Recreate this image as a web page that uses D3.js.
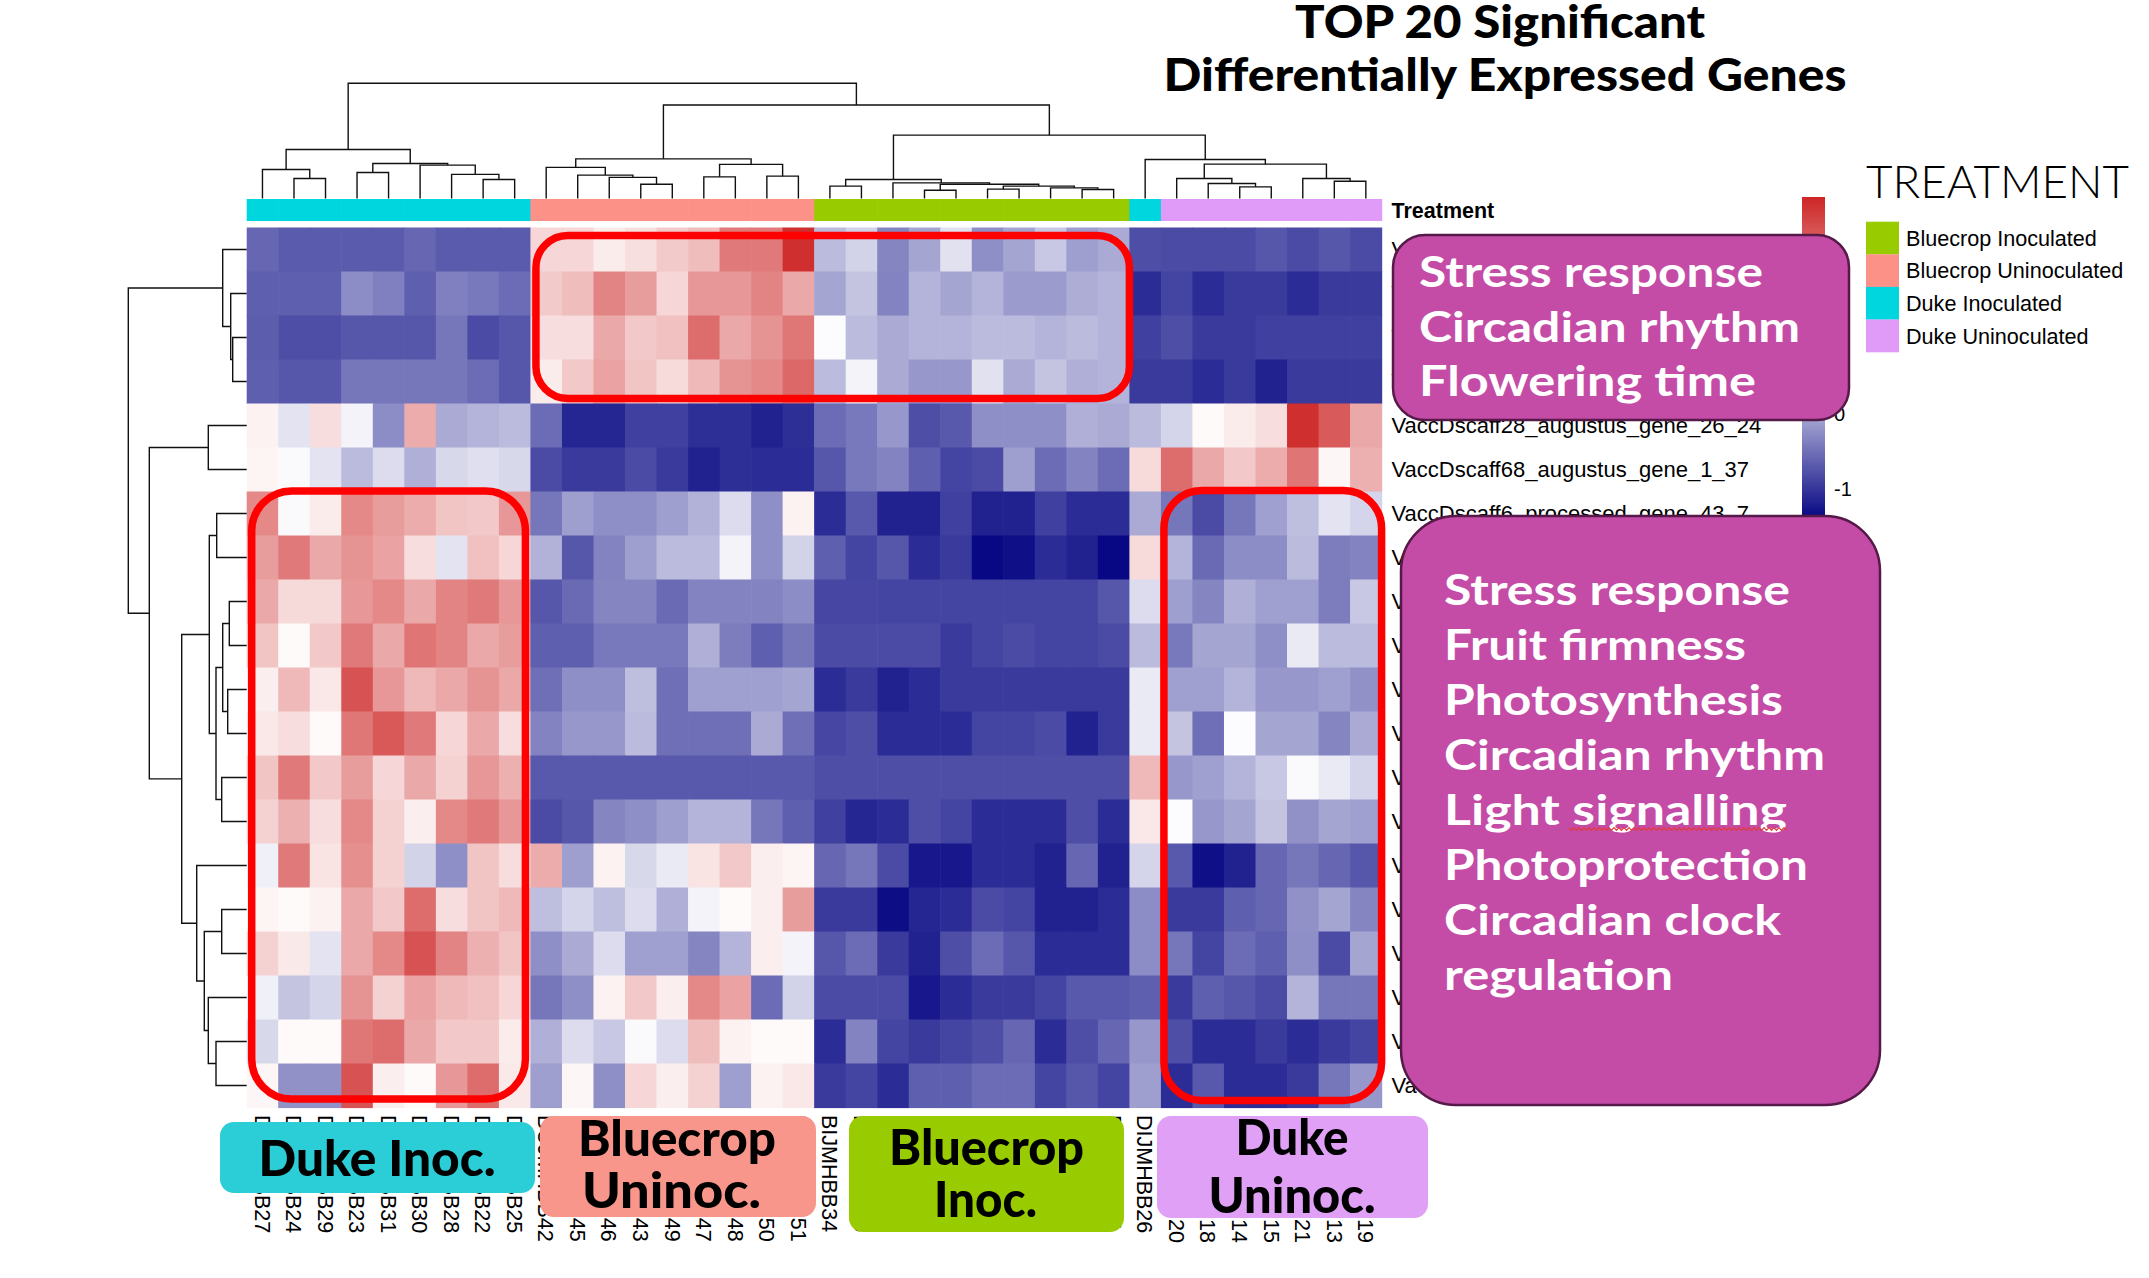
<!DOCTYPE html>
<html><head><meta charset="utf-8">
<script src="https://cdn.jsdelivr.net/npm/d3@7"></script>
<style>body{margin:0;background:#fff}svg{display:block}</style>
</head><body>
<svg id="chart" width="2149" height="1278"></svg>
<script>
// ---------------- DATA ----------------
const colLabels = ["DIJMHBB27","DIJMHBB24","DIJMHBB29","DIJMHBB23","DIJMHBB31","DIJMHBB30","DIJMHBB28","DIJMHBB22","DIJMHBB25",
  "BUJMHBB42","BUJMHBB45","BUJMHBB46","BUJMHBB43","BUJMHBB49","BUJMHBB47","BUJMHBB48","BUJMHBB50","BUJMHBB51",
  "BIJMHBB34","BIJMHBB36","BIJMHBB32","BIJMHBB38","BIJMHBB33","BIJMHBB40","BIJMHBB35","BIJMHBB39","BIJMHBB37","BIJMHBB41",
  "DIJMHBB26","DUJMHBB20","DUJMHBB18","DUJMHBB14","DUJMHBB15","DUJMHBB21","DUJMHBB13","DUJMHBB19"];
const colGroup = [2,2,2,2,2,2,2,2,2, 1,1,1,1,1,1,1,1,1, 0,0,0,0,0,0,0,0,0,0, 2, 3,3,3,3,3,3,3];
const groupNames = ["Bluecrop Inoculated","Bluecrop Uninoculated","Duke Inoculated","Duke Uninoculated"];
const groupColors = ["#99cc00","#fc9287","#00d6de","#e09af7"];
const rowLabels = ["VaccDscaff1_processed_gene_110_5","VaccDscaff12_augustus_gene_48_21","VaccDscaff7_augustus_gene_151_29","VaccDscaff3_snap_gene_52_38",
  "VaccDscaff28_augustus_gene_26_24","VaccDscaff68_augustus_gene_1_37","VaccDscaff6_processed_gene_43_7",
  "VaccDscaff2_augustus_gene_201_12","VaccDscaff9_processed_gene_66_4","VaccDscaff4_augustus_gene_310_17","VaccDscaff21_augustus_gene_14_30",
  "VaccDscaff13_snap_gene_88_2","VaccDscaff5_augustus_gene_97_41","VaccDscaff17_processed_gene_25_9","VaccDscaff10_augustus_gene_173_6",
  "VaccDscaff8_augustus_gene_59_33","VaccDscaff33_snap_gene_11_14","VaccDscaff14_augustus_gene_132_8","VaccDscaff1_augustus_gene_402_19","VaccDscaff20_processed_gene_77_3"];
const expression = [
 [-0.58,-0.68,-0.68,-0.68,-0.68,-0.58,-0.68,-0.68,-0.68,1.12,1.12,0.90,1.03,1.24,1.37,2.05,2.05,2.79,0.14,0.33,-0.32,-0.05,0.46,-0.24,-0.05,0.25,-0.11,-0.01,-0.79,-0.81,-0.81,-0.81,-0.72,-0.81,-0.72,-0.81],
 [-0.64,-0.64,-0.64,-0.26,-0.36,-0.64,-0.36,-0.43,-0.53,1.24,1.37,1.94,1.69,1.12,1.75,1.75,1.94,1.58,-0.05,0.21,-0.34,0.08,-0.05,0.08,-0.13,-0.13,0.02,0.08,-1.08,-0.87,-1.08,-0.96,-0.96,-1.08,-0.96,-0.96],
 [-0.66,-0.79,-0.79,-0.72,-0.72,-0.72,-0.45,-0.81,-0.72,1.05,1.05,1.58,1.26,1.33,2.17,1.58,1.79,2.07,0.69,0.14,-0.01,0.08,0.08,0.14,0.14,0.08,0.14,0.08,-0.91,-0.79,-0.96,-0.96,-0.91,-0.91,-0.91,-0.91],
 [-0.64,-0.72,-0.72,-0.45,-0.45,-0.45,-0.45,-0.53,-0.72,0.90,1.26,1.64,1.29,1.07,1.41,1.79,1.90,2.22,0.14,0.61,-0.01,-0.17,-0.17,0.46,-0.01,0.21,0.04,0.08,-0.96,-0.96,-1.08,-0.96,-1.17,-0.96,-0.96,-0.96],
 [0.84,0.48,1.05,0.61,-0.26,1.54,-0.01,0.08,0.14,-0.53,-1.13,-1.13,-0.91,-0.91,-1.06,-1.06,-1.17,-1.06,-0.53,-0.43,-0.17,-0.79,-0.70,-0.24,-0.24,-0.24,0.04,-0.01,0.14,0.35,0.76,0.90,1.05,2.79,2.36,1.58],
 [0.82,0.67,0.48,0.14,0.42,0.04,0.38,0.44,0.38,-0.81,-0.96,-0.96,-0.81,-0.96,-1.17,-1.06,-1.08,-1.08,-0.72,-0.43,-0.34,-0.64,-0.87,-0.81,-0.11,-0.53,-0.34,-0.53,1.07,2.17,1.58,1.26,1.54,2.09,0.80,1.50],
 [1.90,0.67,0.90,1.90,1.69,1.54,1.29,1.26,1.75,-0.45,-0.11,-0.24,-0.24,-0.11,0.06,0.42,-0.24,0.84,-1.08,-0.70,-1.17,-1.17,-0.91,-1.17,-1.17,-0.91,-1.08,-1.08,-0.01,-0.45,-0.81,-0.45,-0.09,0.16,0.48,0.35],
 [1.69,2.05,1.58,1.79,1.64,1.05,0.48,1.33,1.12,0.06,-0.72,-0.34,-0.11,0.14,0.14,0.61,-0.24,0.33,-0.64,-0.87,-0.72,-1.08,-0.96,-1.38,-1.32,-1.08,-1.17,-1.38,1.07,0.08,-0.56,-0.26,-0.26,0.14,-0.39,-0.34],
 [1.58,1.09,1.09,1.75,1.90,1.58,1.94,2.05,1.75,-0.72,-0.56,-0.32,-0.32,-0.56,-0.34,-0.34,-0.34,-0.26,-0.85,-0.85,-0.87,-0.87,-0.87,-0.87,-0.87,-0.87,-0.87,-0.72,0.42,-0.11,-0.32,0.04,-0.09,-0.09,-0.39,0.25],
 [1.29,0.76,1.26,2.05,1.58,2.09,1.94,1.58,1.69,-0.64,-0.64,-0.43,-0.43,-0.43,0.04,-0.39,-0.64,-0.45,-0.81,-0.81,-0.81,-0.81,-0.96,-0.87,-0.81,-0.87,-0.87,-0.81,0.14,-0.43,-0.05,-0.05,-0.24,0.54,0.14,0.14],
 [0.88,1.41,0.95,2.43,1.75,1.41,1.58,1.79,1.58,-0.51,-0.24,-0.24,0.16,-0.51,-0.09,-0.09,-0.09,-0.05,-1.08,-0.96,-1.17,-1.08,-0.96,-0.96,-0.96,-0.96,-0.96,-0.96,0.54,-0.09,-0.09,0.08,-0.17,-0.17,-0.09,-0.22],
 [0.95,1.05,0.76,2.07,2.38,2.05,1.12,1.58,1.05,-0.34,-0.17,-0.17,0.14,-0.51,-0.51,-0.51,-0.01,-0.51,-0.85,-0.79,-1.08,-1.08,-1.08,-0.87,-0.87,-0.81,-1.17,-0.96,0.54,0.21,-0.51,0.69,-0.05,-0.05,-0.32,-0.01],
 [1.29,2.05,1.26,1.69,1.12,1.58,1.16,1.75,1.50,-0.70,-0.70,-0.70,-0.70,-0.70,-0.70,-0.70,-0.70,-0.70,-0.79,-0.79,-0.79,-0.79,-0.79,-0.79,-0.79,-0.79,-0.79,-0.79,1.41,-0.17,-0.09,0.08,0.25,0.67,0.54,0.35],
 [1.16,1.50,1.05,1.90,1.16,0.88,1.90,2.05,1.75,-0.81,-0.72,-0.32,-0.24,-0.11,0.08,0.08,-0.45,-0.64,-0.91,-1.13,-1.08,-0.79,-0.87,-1.08,-1.08,-1.08,-0.79,-1.08,0.95,0.69,-0.17,-0.05,0.21,-0.22,-0.05,-0.09],
 [0.59,2.05,0.99,1.83,1.16,0.33,-0.24,1.29,1.05,1.54,-0.11,0.84,0.38,0.54,0.99,1.26,0.88,0.82,-0.58,-0.45,-0.81,-1.25,-1.25,-1.08,-1.08,-1.17,-0.58,-1.17,0.35,-0.70,-1.32,-1.17,-0.58,-0.45,-0.58,-0.72],
 [0.82,0.76,0.84,1.58,1.26,2.17,1.05,1.29,1.41,0.16,0.35,0.16,0.42,0.04,0.61,0.76,0.88,1.69,-0.96,-0.96,-1.34,-1.13,-1.08,-0.81,-0.87,-1.17,-1.17,-1.08,-0.26,-0.96,-0.96,-0.64,-0.58,-0.22,-0.05,-0.32],
 [1.16,0.93,0.48,1.58,1.90,2.43,1.94,1.50,1.29,-0.24,-0.01,0.42,-0.09,-0.09,-0.32,0.08,0.88,0.61,-0.72,-0.53,-0.96,-1.17,-0.79,-0.53,-0.72,-1.08,-1.08,-1.08,-0.26,-0.45,-0.87,-0.53,-0.64,-0.24,-0.81,-0.05],
 [0.59,0.21,0.35,1.79,1.16,1.64,1.41,1.33,1.12,-0.45,-0.24,0.84,1.26,0.88,1.90,1.64,-0.53,0.33,-0.81,-0.81,-0.81,-1.25,-1.08,-0.96,-0.96,-0.87,-0.70,-0.70,-0.64,-0.96,-0.64,-0.72,-0.81,0.08,-0.45,-0.45],
 [0.38,0.76,0.76,2.07,2.17,1.58,1.26,1.26,0.90,0.04,0.42,0.25,0.67,0.42,1.37,0.84,0.76,0.76,-1.08,-0.34,-0.87,-0.96,-0.87,-0.79,-0.58,-1.08,-0.79,-0.58,-0.17,-0.79,-1.08,-1.08,-0.96,-1.08,-0.96,-0.87],
 [0.80,-0.22,-0.22,2.43,0.88,0.76,1.75,2.17,0.93,-0.11,0.80,-0.24,1.12,0.88,1.16,-0.11,0.84,0.95,-0.96,-0.87,-1.08,-0.64,-0.64,-0.53,-0.53,-0.87,-0.72,-0.87,-0.11,-1.08,-0.70,-1.08,-1.08,-0.96,-0.45,-0.17]
];
// hclust-style merges: negative = leaf (1-based display position), positive = earlier merge; [a, b, height]
const colMerge = [[-2,-3,17.4],[-1,1,25.2],[-8,-9,16.5],[-7,3,20.9],[-6,4,29.0],[-4,-5,22.6],[6,5,30.4],[2,7,42.6],
  [-13,-14,12.4],[-12,9,18.3],[-11,10,20.3],[-10,11,27.0],[-15,-16,18.8],[-17,-18,19.4],[13,14,29.6],[12,15,34.4],
  [-19,-20,10.7],[-22,-23,7.2],[-24,-25,8.1],[-27,-28,7.8],[-26,20,9.2],[19,21,10.7],[18,22,12.4],[-21,23,13.6],[17,24,16.5],
  [-32,-33,10.1],[-31,26,13.0],[-30,27,17.4],[-35,-36,15.0],[-34,29,17.4],[28,30,29.8],[-29,31,33.9],
  [25,32,55.0],[16,33,81.1],[8,34,100]];
const rowMerge = [[-3,-4,14],[-2,1,16],[-1,2,24],[-5,-6,38.4],[-7,-8,30],[-9,-10,17.4],[-11,-12,19],[6,7,24],[-13,-14,25],
  [8,9,30.7],[5,10,37.4],[-16,-17,25],[-19,-20,30.7],[-18,13,38.4],[12,14,42.4],[-15,15,50],[11,16,65],[4,17,97.4],[3,18,118.4]];
const legendTicks = [-1,0,1,2];
const colorStops = [-1.45,0.715,2.88];
const titleLines = ["TOP 20 Significant","Differentially Expressed Genes"];
const box1Lines = ["Stress response","Circadian rhythm","Flowering time"];
const box2Lines = ["Stress response","Fruit firmness","Photosynthesis","Circadian rhythm","Light signalling","Photoprotection","Circadian clock","regulation"];
const groupTags = [["Duke Inoc."],["Bluecrop","Uninoc."],["Bluecrop","Inoc."],["Duke","Uninoc."]];
// ---------------- DRAW ----------------
const svg = d3.select("#chart");
svg.append("rect").attr("width",2149).attr("height",1278).attr("fill","#fff");
const x = d3.scaleBand().domain(d3.range(colLabels.length)).range([246.7,1381.6]);
const y = d3.scaleBand().domain(d3.range(rowLabels.length)).range([227.5,1107.5]);
const color = d3.scaleLinear().domain(colorStops).range(["#000080","#ffffff","#cd2626"]);
const SANS = "'Liberation Sans', Arial, sans-serif";

// heatmap cells
const cells = svg.append("g");
expression.forEach((row,r)=>row.forEach((v,c)=>{
  cells.append("rect").attr("x",x(c)).attr("y",y(r)).attr("width",x.bandwidth()+0.6).attr("height",y.bandwidth()+0.6).attr("fill",color(v));
}));
// annotation bar
svg.append("g").selectAll("rect").data(colGroup).join("rect")
  .attr("x",(d,i)=>x(i)).attr("y",199).attr("width",x.bandwidth()+0.6).attr("height",22).attr("fill",d=>groupColors[d]);
svg.append("text").attr("x",1391.5).attr("y",218).attr("font-family",SANS).attr("font-weight","bold").attr("font-size",21.5).text("Treatment");

// dendrograms
function drawTree(merges, leafPos, hScale, vertical){
  const pos=[], ht=[];
  const P = id => id<0 ? leafPos(-id-1) : pos[id-1];
  const Hh = id => id<0 ? 0 : ht[id-1];
  const g = svg.append("g").attr("fill","none").attr("stroke","#111").attr("stroke-width",1.4);
  merges.forEach(([a,b,h],k)=>{
    const pa=P(a), pb=P(b);
    pos[k]=(pa+pb)/2; ht[k]=h;
    const pts=[[pa,Hh(a)],[pa,h],[pb,h],[pb,Hh(b)]].map(([p,hh])=> vertical ? [p,hScale(hh)] : [hScale(hh),p]);
    g.append("path").attr("d",d3.line()(pts));
  });
}
drawTree(colMerge, i=>x(i)+x.bandwidth()/2, d3.scaleLinear().domain([0,100]).range([198.5,83.3]), true);
drawTree(rowMerge, i=>y(i)+y.bandwidth()/2, d3.scaleLinear().domain([0,118.4]).range([246.7,128.3]), false);

// row labels
svg.append("g").selectAll("text").data(rowLabels).join("text")
  .attr("x",1391.5).attr("y",(d,i)=>y(i)+y.bandwidth()/2).attr("dy","0.36em")
  .attr("font-family",SANS).attr("font-size",22).text(d=>d);
// column labels
svg.append("g").selectAll("text").data(colLabels).join("text")
  .attr("transform",(d,i)=>`translate(${x(i)+x.bandwidth()/2},1115) rotate(90)`)
  .attr("dy","0.36em").attr("font-family",SANS).attr("font-size",21.5).text(d=>d);

// colour bar legend
const barScale = d3.scaleLinear().domain([colorStops[2],colorStops[0]]).range([197,523]);
const bar = svg.append("g");
d3.range(197,523,2).forEach(py=>{
  bar.append("rect").attr("x",1802).attr("y",py).attr("width",23).attr("height",2.4).attr("fill",color(barScale.invert(py+1)));
});
bar.selectAll("text").data(legendTicks).join("text").attr("x",1834).attr("y",d=>barScale(d)).attr("dy","0.36em")
  .attr("font-family",SANS).attr("font-size",20).text(d=>d);

// treatment legend
svg.append("text").attr("x",1866).attr("y",198).attr("font-family","Lato, 'Open Sans', sans-serif").attr("font-weight",300)
  .attr("font-size",46).attr("textLength",263).attr("lengthAdjust","spacingAndGlyphs").text("TREATMENT");
const lg = svg.append("g");
groupNames.forEach((n,i)=>{
  lg.append("rect").attr("x",1866).attr("y",221.7+i*32.6).attr("width",33).attr("height",32.8).attr("fill",groupColors[i]);
  lg.append("text").attr("x",1906).attr("y",221.7+i*32.6+16.3).attr("dy","0.36em").attr("font-family",SANS).attr("font-size",21.6).text(n);
});

// title
const TF = "Lato, 'Open Sans', sans-serif";
[[1500,38,410],[1505,90.5,683]].forEach(([cx,by,w],i)=>{
  svg.append("text").attr("x",cx).attr("y",by).attr("text-anchor","middle").attr("font-family",TF).attr("font-weight",900)
    .attr("font-size",46).attr("textLength",w).attr("lengthAdjust","spacingAndGlyphs").text(titleLines[i]);
});

// red highlight outlines (by row/col ranges)
const highlights = [{c0:9,c1:27,r0:0,r1:3,ins:[5.5,8,0,5],rx:32},{c0:0,c1:8,r0:6,r1:19,ins:[5,-0.5,5,8.5],rx:40},{c0:29,c1:35,r0:6,r1:19,ins:[3,-1,0,7],rx:38}];
svg.append("g").selectAll("rect").data(highlights).join("rect")
  .attr("x",d=>x(d.c0)+d.ins[0]).attr("y",d=>y(d.r0)+d.ins[1])
  .attr("width",d=>x(d.c1)+x.bandwidth()-d.ins[2]-x(d.c0)-d.ins[0])
  .attr("height",d=>y(d.r1)+y.bandwidth()-d.ins[3]-y(d.r0)-d.ins[1])
  .attr("rx",d=>d.rx).attr("fill","none").attr("stroke","#ff0000").attr("stroke-width",7.5);

// purple annotation boxes
const AF = "Lato, 'Open Sans', sans-serif";
function purpleBox(bx,by,bw,bh,rx,lines,tx,b0,step,widths){
  svg.append("rect").attr("x",bx).attr("y",by).attr("width",bw).attr("height",bh).attr("rx",rx)
    .attr("fill","#c44ca6").attr("stroke","#561a48").attr("stroke-width",2.5);
  lines.forEach((t,i)=>svg.append("text").attr("x",tx).attr("y",b0+i*step).attr("fill","#fff").attr("font-family",AF)
    .attr("font-weight",700).attr("font-size",42).attr("textLength",widths[i]).attr("lengthAdjust","spacingAndGlyphs").text(t));
}
purpleBox(1393,235,456,185,32,box1Lines,1419,287,54.5,[344,381,337]);
purpleBox(1401,516,479,589,55,box2Lines,1444,604.5,55,[346,302,339,381,343,364,337,229]);
// spell-check squiggle under "signalling"
const sq = d3.range(0,220,2.5).map((d,i)=>[1569+d, 829+(i%2?1.4:-1.4)]);
svg.append("path").attr("d",d3.line()(sq)).attr("fill","none").attr("stroke","#e23b3b").attr("stroke-width",1.1);

// bottom group tags
const tagBoxes = [
  {x:220,y:1122,w:315,h:71,fill:"#2bcdd6",lines:[[377,1176,237]]},
  {x:540,y:1116,w:276,h:101,fill:"#f9968b",lines:[[677,1156,198],[671.5,1208,179]]},
  {x:849,y:1116,w:275,h:116,fill:"#99cc00",lines:[[986.5,1165,195],[985.5,1217,103]]},
  {x:1157,y:1116,w:271,h:102,fill:"#e0a0f6",lines:[[1292,1155,113],[1292,1213,167]]}
];
tagBoxes.forEach((b,i)=>{
  svg.append("rect").attr("x",b.x).attr("y",b.y).attr("width",b.w).attr("height",b.h).attr("rx",14).attr("fill",b.fill);
  b.lines.forEach(([cx,by,w],j)=>svg.append("text").attr("x",cx).attr("y",by).attr("text-anchor","middle")
    .attr("font-family",AF).attr("font-weight",900).attr("font-size",50).attr("textLength",w).attr("lengthAdjust","spacingAndGlyphs")
    .text(groupTags[i][j]));
});
</script>
</body></html>
